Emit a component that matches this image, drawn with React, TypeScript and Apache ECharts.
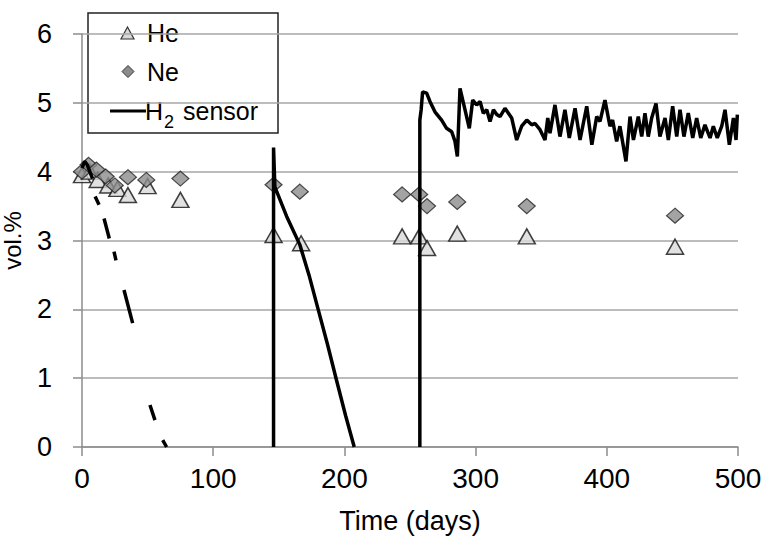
import React, { useEffect, useRef } from "react";
import * as echarts from "echarts";

const heDays = [0, 6, 12, 20, 27, 35, 50, 75, 146, 167, 244, 257, 263, 286, 339, 452];
const heValues = [3.95, 4.0, 3.88, 3.8, 3.75, 3.66, 3.79, 3.59, 3.08, 2.96, 3.06, 3.06, 2.89, 3.1, 3.06, 2.91];

const neDays = [0, 5, 11, 18, 25, 35, 49, 75, 146, 166, 244, 257, 263, 286, 339, 452];
const neValues = [4.0, 4.1, 4.03, 3.93, 3.8, 3.92, 3.88, 3.9, 3.81, 3.71, 3.67, 3.67, 3.5, 3.56, 3.5, 3.36];

// H2 sensor trace; "-" marks a gap in the record
const h2Days = [
  0, 2, 4, 6, 8, 9,
  10, 13, 14, 16.8, 20.8, 22, 24.4, 25.9, 28, 32, 38.6, 45, 51.8, 55.6, 58, 61.5, 64.5, 100,
  146, 146, 147, 156, 166, 173, 180, 187, 194, 201, 207.5, 230,
  257.5, 257.5, 258.5, 259.6, 262.7, 265.2, 269, 274.1, 277.9, 281.8, 284.3, 286.1, 288.1, 291.9, 295.2,
  297.8, 300.8, 303.4, 305.9, 308.5, 311, 313.6, 316.1, 318.6, 322.4, 325, 327.5, 331.3, 335.1, 339,
  342.8, 345.3, 349.1, 352.9, 355, 356.7, 360.5, 364.3, 368.1, 371.4, 375.8, 379.6, 384.7, 388.6,
  392.3, 394.8, 398.6, 402.4, 404.4, 407.5, 410, 414.6, 417.7, 420.3, 424, 426.6, 429.1, 431.6,
  434.2, 437.5, 440.5, 444.4, 446.9, 450.2, 453.3, 455.8, 458.8, 462.1, 465.5, 468.5, 471.6, 474.8,
  478.7, 481.2, 484.2, 487.6, 490.1, 493.4, 496.5, 498.5, 499.5,
];
const h2Values: (number | string)[] = [
  4.05, 4.15, 4.1, 4.0, 3.9, "-",
  3.64, 3.52, "-", 3.32, 3.03, "-", 2.84, 2.71, "-", 2.28, 1.8, "-", 0.61, 0.39, "-", 0.1, 0, "-",
  0, 4.35, 3.78, 3.35, 2.94, 2.5, 2.0, 1.5, 0.97, 0.45, 0, "-",
  0, 4.75, 4.9, 5.16, 5.14, 5.02, 4.87, 4.75, 4.63, 4.58, 4.44, 4.22, 5.21, 4.9, 4.63,
  5.04, 4.97, 5.02, 4.85, 4.9, 4.73, 4.9, 4.83, 4.8, 4.92, 4.85, 4.78, 4.46, 4.66, 4.75,
  4.68, 4.7, 4.61, 4.46, 4.78, 4.56, 4.97, 4.51, 4.9, 4.49, 4.92, 4.46, 4.95, 4.39,
  4.8, 4.73, 5.04, 4.66, 4.75, 4.44, 4.66, 4.15, 4.8, 4.46, 4.8, 4.51, 4.85, 4.51,
  4.78, 4.99, 4.51, 4.78, 4.46, 4.95, 4.51, 4.9, 4.51, 4.85, 4.49, 4.78, 4.49, 4.68,
  4.49, 4.66, 4.49, 4.66, 4.9, 4.39, 4.78, 4.46, 4.83,
];

const FONT = "'Liberation Sans', Arial, sans-serif";

export default function App() {
  const ref = useRef<HTMLDivElement>(null);
  useEffect(() => {
    if (!ref.current) return;
    const chart = echarts.init(ref.current, null, { renderer: "svg" });
    const legendText = { fill: "#000", fontSize: 25, fontFamily: FONT };
    chart.setOption({
      animation: false,
      backgroundColor: "#fff",
      grid: { left: 82, right: 25, top: 34, bottom: 92, containLabel: false, outerBoundsMode: "none" },
      xAxis: {
        type: "value",
        min: 0,
        max: 500,
        interval: 100,
        name: "Time (days)",
        nameLocation: "middle",
        nameGap: 60,
        nameTextStyle: { color: "#000", fontSize: 27, fontFamily: FONT },
        axisLine: { show: true, lineStyle: { color: "#8c8c8c", width: 1.5 } },
        axisTick: { show: true, length: 9, lineStyle: { color: "#8c8c8c", width: 1.5 } },
        axisLabel: { color: "#000", fontSize: 28, fontFamily: FONT, margin: 17 },
        splitLine: { show: false },
      },
      yAxis: {
        type: "value",
        min: 0,
        max: 6,
        interval: 1,
        name: "vol.%",
        nameLocation: "middle",
        nameGap: 58,
        nameTextStyle: { color: "#000", fontSize: 24, fontFamily: FONT },
        axisLine: { show: true, lineStyle: { color: "#8c8c8c", width: 1.5 } },
        axisTick: { show: true, length: 9, lineStyle: { color: "#8c8c8c", width: 1.5 } },
        axisLabel: { color: "#000", fontSize: 27, fontFamily: FONT, margin: 30 },
        splitLine: { show: true, lineStyle: { color: "#a6a6a6", width: 1.5 } },
      },
      series: [
        {
          name: "He",
          type: "scatter",
          symbol: "triangle",
          symbolSize: [17, 15],
          itemStyle: { color: "#d9d9d9", borderColor: "#111", borderWidth: 1.5 },
          data: heDays.map((d, i) => [d, heValues[i]]),
          z: 2,
        },
        {
          name: "Ne",
          type: "scatter",
          symbol: "diamond",
          symbolSize: [17, 15],
          itemStyle: { color: "#8c8c8c", borderColor: "#222", borderWidth: 1.2 },
          data: neDays.map((d, i) => [d, neValues[i]]),
          z: 3,
        },
        {
          name: "H2 sensor",
          type: "line",
          showSymbol: false,
          connectNulls: false,
          lineStyle: { color: "#000", width: 3.5 },
          data: h2Days.map((d, i) => [d, h2Values[i]]),
          z: 4,
        },
      ],
      graphic: [
        {
          type: "group",
          z: 100,
          children: [
            {
              type: "rect",
              shape: { x: 88, y: 13, width: 190, height: 120 },
              style: { fill: "#fff", stroke: "#222", lineWidth: 1.5 },
            },
            {
              type: "polygon",
              shape: { points: [[127.5, 27], [121, 39], [134, 39]] },
              style: { fill: "#d9d9d9", stroke: "#333", lineWidth: 1.2 },
            },
            { type: "text", x: 147, y: 33, style: { ...legendText, text: "He", verticalAlign: "middle" } },
            {
              type: "polygon",
              shape: { points: [[128, 65.5], [134, 71.5], [128, 77.5], [122, 71.5]] },
              style: { fill: "#8c8c8c", stroke: "#333", lineWidth: 1 },
            },
            { type: "text", x: 147, y: 72, style: { ...legendText, text: "Ne", verticalAlign: "middle" } },
            {
              type: "line",
              shape: { x1: 110, y1: 111, x2: 146, y2: 111 },
              style: { stroke: "#000", lineWidth: 3 },
            },
            { type: "text", x: 145, y: 111, style: { ...legendText, text: "H", verticalAlign: "middle" } },
            { type: "text", x: 164, y: 122, style: { ...legendText, fontSize: 18, text: "2", verticalAlign: "middle" } },
            { type: "text", x: 183, y: 111, style: { ...legendText, text: "sensor", verticalAlign: "middle" } },
          ],
        },
      ],
    });
    return () => chart.dispose();
  }, []);
  return <div ref={ref} style={{ width: 763, height: 539, position: "absolute", left: 0, top: 0 }} />;
}
